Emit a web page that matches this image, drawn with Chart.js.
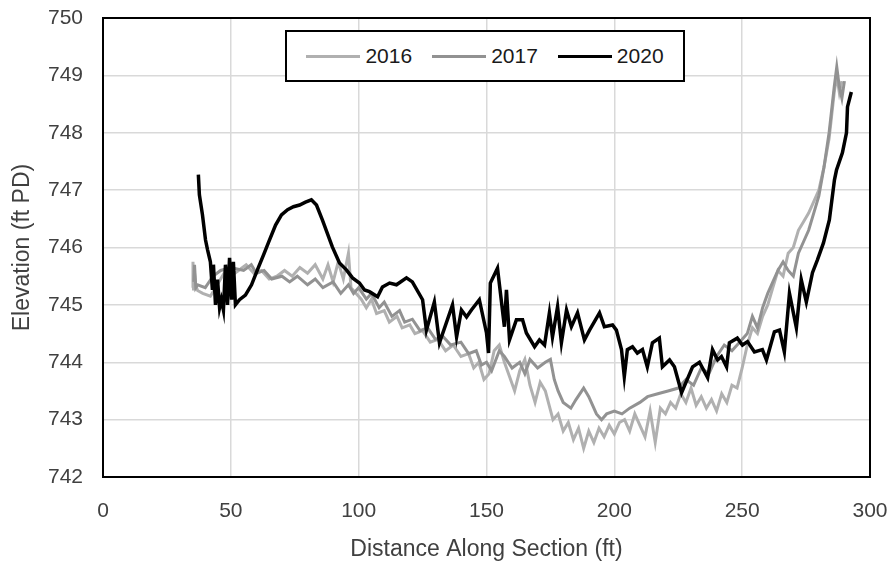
<!DOCTYPE html>
<html>
<head>
<meta charset="utf-8">
<script src="https://cdn.jsdelivr.net/npm/chart.js@4"></script>
<style>
  body { margin: 0; background: #fff; }
  #wrap { position: relative; width: 894px; height: 564px; }
  #legend {
    position: absolute; left: 285px; top: 30px; width: 400px; height: 52px;
    box-sizing: border-box; border: 2px solid #000; background: #fff;
    display: flex; align-items: center; justify-content: center;
    font-family: "Liberation Sans", Arial, sans-serif; font-size: 21px; color: #1a1a1a;
  }
  .item { display: flex; align-items: center; margin: 0 10px; }
  .swatch { width: 54px; height: 3px; margin-right: 5px; }
</style>
</head>
<body>
<div id="wrap">
  <canvas id="chart"></canvas>
  <div id="legend"></div>
</div>
<script>
// Series labels and colours
const years = ['2016', '2017', '2020'];
const colors = ['#b0b0b0', '#929292', '#000000'];

// 2016 survey
const x2016 = [35.0,35.2,35.4,35.7,36.2,37.0,39,42,44,46,48,50,53,56,59,62,65,68,71,74,77,80,83,86,88,90,92,94,96,97,99,101,103,105,107,110,112,115,117,120,122,125,128,131,134,137,140,143,145,147,149,151,153,155,157,159,161,163,165,167,169,171,173,176,178,180,182,184,186,188,190,192,194,196,198,200,202,204,206,208,210,212,214,216,218,220,222,224,226,228,230,232,234,236,238,240,242,244,246,248,250,252,254,256,258,260,262,264,266,268,270,272,274,276,278,280,282,284,285,286,287,288,289];
const y2016 = [745.3,745.75,745.25,745.6,745.35,745.25,745.2,745.15,745.3,745.45,745.6,745.5,745.6,745.7,745.55,745.6,745.45,745.5,745.6,745.5,745.65,745.55,745.7,745.45,745.7,745.4,745.75,745.45,745.9,745.3,745.2,745.1,744.95,745.1,744.85,744.9,744.7,744.8,744.6,744.65,744.5,744.55,744.35,744.4,744.2,744.3,744.1,744.15,743.9,744.0,743.7,743.8,744.2,744.3,744.0,743.75,743.5,743.85,744.05,743.6,743.3,743.65,743.5,743.0,743.1,742.8,742.95,742.65,742.85,742.5,742.8,742.6,742.85,742.7,742.9,742.75,742.95,743.0,742.8,743.1,742.9,742.7,743.15,742.6,743.2,743.1,743.3,743.2,743.45,743.3,743.55,743.25,743.4,743.2,743.35,743.15,743.45,743.3,743.6,743.55,743.9,744.3,744.6,744.5,744.8,745.0,745.3,745.6,745.5,745.9,746.0,746.3,746.45,746.6,746.8,747.0,747.4,747.9,748.3,748.7,749.0,748.7,748.9];

// 2017 survey
const x2017 = [35.5,35.8,36.3,37,40,43,46,50,55,58,60,63,66,70,73,76,80,83,86,90,93,96,98,100,103,105,108,110,113,116,118,121,124,127,130,133,136,140,143,146,148,150,152,155,157,160,163,165,167,170,173,175,176.5,178,180,183,185,188,190,193,195,197,200,203,206,210,213,217,221,225,228,231,234,237,240,243,246,249,252,254,256,258,260,262,264,266,268,270,272,274,276,278,280,282,283,284,285,286,287,288,289,290];
const y2017 = [745.4,745.7,745.3,745.35,745.3,745.5,745.6,745.65,745.6,745.7,745.55,745.6,745.45,745.5,745.4,745.5,745.35,745.45,745.3,745.4,745.2,745.35,745.2,745.3,745.1,745.2,744.95,745.05,744.8,744.9,744.7,744.75,744.55,744.6,744.4,744.45,744.3,744.35,744.15,744.2,743.95,744.0,743.85,744.2,744.1,743.9,744.0,743.8,744.05,743.9,744.0,744.05,743.7,743.5,743.3,743.2,743.35,743.55,743.4,743.1,743.0,743.1,743.15,743.1,743.2,743.3,743.4,743.45,743.5,743.55,743.7,743.6,743.9,743.8,744.1,744.3,744.2,744.35,744.5,744.8,744.6,744.95,745.2,745.4,745.6,745.75,745.6,745.5,745.9,746.1,746.3,746.6,746.9,747.4,747.7,748.0,748.4,748.8,749.15,748.8,748.6,748.9];

// 2020 survey
const x2020 = [37.3,37.7,38.9,40.1,40.9,42.0,42.8,43.2,44.0,44.8,45.6,46.3,47.1,47.9,48.7,49.5,50.3,51.0,51.8,53.4,55.7,58.1,60.4,62.8,65.1,67.5,69.8,72.2,74.5,76.9,79.2,81.5,83.5,85.8,89.7,92.5,95.2,97.6,100.3,102.3,104.2,107.4,109.3,112.1,114.8,118.7,121.0,125.0,126.5,129.6,131.6,136.7,138.3,140.2,142.2,144.1,147.2,150.0,150.8,151.5,154.3,157.0,157.8,159.0,161.7,164.1,165.6,168.8,170.7,172.7,174.6,175.8,177.8,179.3,181.3,183.2,185.6,188.3,190.3,194.2,196.1,199.3,200.8,202.8,203.9,205.1,207.1,209.0,211.0,212.9,214.9,217.6,218.8,221.6,223.5,226.3,230.6,233.3,236.5,238.4,240.4,241.9,243.9,245.0,248.1,250.1,252.1,254.8,257.9,259.5,262.6,264.6,266.5,268.5,271.2,273.1,275.1,277.5,279.4,281.8,284.1,286.1,286.9,289.2,290.8,291.2,292.7];
const y2020 = [747.27,746.92,746.57,746.13,745.96,745.75,745.26,745.70,745.0,745.44,744.95,745.09,744.91,745.70,745.0,745.82,745.09,745.75,745.0,745.09,745.17,745.35,745.61,745.87,746.13,746.39,746.57,746.66,746.71,746.74,746.79,746.83,746.74,746.48,746.01,745.73,745.61,745.47,745.38,745.26,745.23,745.14,745.31,745.38,745.35,745.47,745.40,745.09,744.56,745.05,744.34,745.0,744.44,744.91,744.79,744.91,745.09,744.51,744.16,745.38,745.64,744.62,745.26,744.39,744.74,744.74,744.51,744.27,744.39,744.30,744.86,744.44,744.97,744.34,744.91,744.62,744.86,744.39,744.56,744.86,744.62,744.65,744.56,744.22,743.75,744.22,744.27,744.16,744.22,743.92,744.34,744.42,743.92,744.04,743.92,743.47,743.92,744.0,743.73,744.22,744.04,744.10,743.92,744.34,744.42,744.30,744.36,744.18,744.22,744.04,744.53,744.56,744.18,745.20,744.60,745.44,745.05,745.56,745.78,746.08,746.48,747.18,747.35,747.65,748.0,748.45,748.71];

const seriesX = [x2016, x2017, x2020];
const seriesY = [y2016, y2017, y2020];

const tickFont = { family: '"Liberation Sans", Arial, sans-serif', size: 21 };
const titleFont = { family: '"Liberation Sans", Arial, sans-serif', size: 23 };

// black frame round the plot area
const frame = {
  id: 'frame',
  afterDatasetsDraw(chart) {
    const { ctx, chartArea: a } = chart;
    ctx.save();
    ctx.strokeStyle = '#000';
    ctx.lineWidth = 2;
    ctx.strokeRect(a.left, a.top, a.right - a.left, a.bottom - a.top);
    ctx.restore();
  }
};

const datasets = years.map((yr, i) => ({
  label: yr,
  data: seriesX[i].map((x, j) => ({ x: x, y: seriesY[i][j] })),
  borderColor: colors[i],
  borderWidth: i === 2 ? 3.5 : 3,
  pointRadius: 0,
  tension: 0,
  fill: false,
  order: 3 - i
}));

new Chart(document.getElementById('chart'), {
  type: 'line',
  data: { datasets },
  options: {
    responsive: true,
    maintainAspectRatio: false,
    animation: false,
    layout: { padding: { top: 18, right: 24, left: 0, bottom: 0 } },
    plugins: { legend: { display: false }, tooltip: { enabled: false } },
    scales: {
      x: {
        type: 'linear', min: 0, max: 300,
        ticks: { stepSize: 50, font: tickFont, color: '#404040', padding: 22 },
        grid: { color: '#d9d9d9', lineWidth: 1.5, drawTicks: false },
        border: { display: false },
        title: { display: true, text: 'Distance Along Section (ft)', font: titleFont, color: '#404040', padding: { top: 0, bottom: 1 } },
        afterFit(scale) {
          scale.height = 87;
          scale.paddingLeft = 0;
          scale.paddingRight = 0;
        }
      },
      y: {
        min: 742, max: 750,
        ticks: { stepSize: 1, font: tickFont, color: '#404040', padding: 20 },
        grid: { color: '#d9d9d9', lineWidth: 1.5, drawTicks: false },
        border: { display: false },
        title: { display: true, text: 'Elevation (ft PD)', font: titleFont, color: '#404040', padding: { top: 9, bottom: 0 } },
        afterFit(scale) {
          scale.width = 103;
          scale.paddingTop = 0;
          scale.paddingBottom = 0;
        }
      }
    }
  },
  plugins: [frame]
});

// legend box inside the plot
const legend = document.getElementById('legend');
years.forEach((yr, i) => {
  const item = document.createElement('div');
  item.className = 'item';
  item.innerHTML = `<span class="swatch" style="background:${colors[i]}"></span><span>${yr}</span>`;
  legend.appendChild(item);
});
</script>
</body>
</html>
